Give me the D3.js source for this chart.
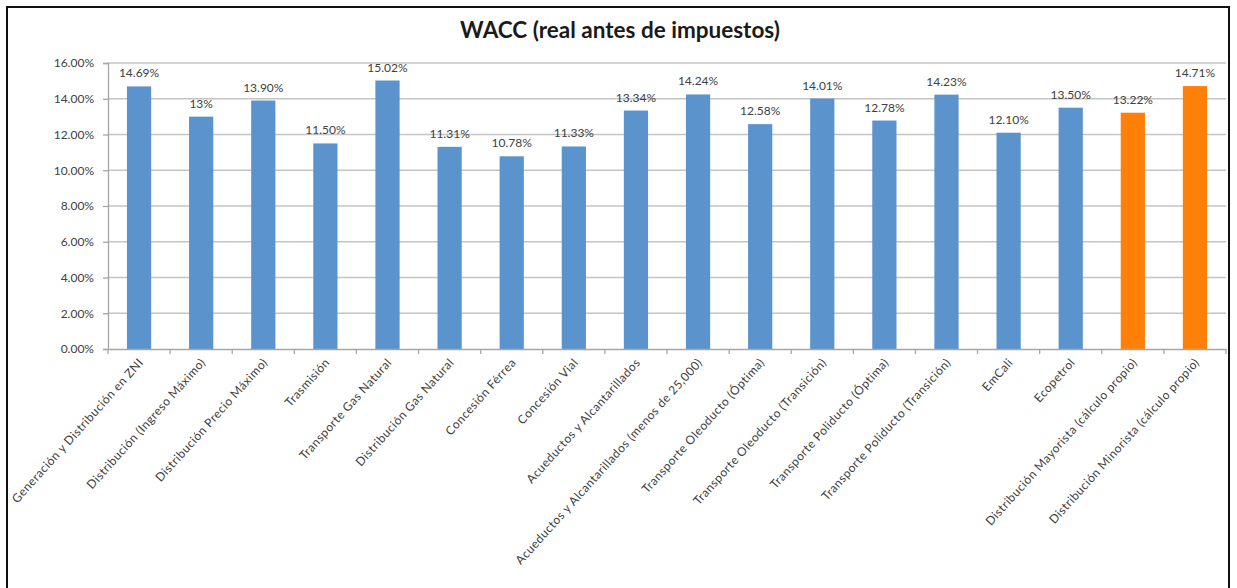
<!DOCTYPE html>
<html>
<head>
<meta charset="utf-8">
<script src="https://cdn.jsdelivr.net/npm/d3@7"></script>
<style>
  html, body { margin: 0; padding: 0; background: #fff; }
  svg { display: block; }
  text { font-family: Lato, "Open Sans", "Liberation Sans", sans-serif; }
</style>
</head>
<body>
<svg id="chart" width="1237" height="588"></svg>
<script>
const title = "WACC (real antes de impuestos)";
const categories = [
  "Generación y Distribución en ZNI",
  "Distribución (Ingreso Máximo)",
  "Distribución Precio Máximo)",
  "Trasmisión",
  "Transporte Gas Natural",
  "Distribución Gas Natural",
  "Concesión Férrea",
  "Concesión Vial",
  "Acueductos y Alcantarillados",
  "Acueductos y Alcantarillados (menos de 25,000)",
  "Transporte Oleoducto (Óptima)",
  "Transporte Oleoducto (Transición)",
  "Transporte Poliducto (Óptima)",
  "Transporte Poliducto (Transición)",
  "EmCali",
  "Ecopetrol",
  "Distribución Mayorista (cálculo propio)",
  "Distribución Minorista (cálculo propio)"
];
const values = [14.69, 13.00, 13.90, 11.50, 15.02, 11.31, 10.78, 11.33, 13.34, 14.24, 12.58, 14.01, 12.78, 14.23, 12.10, 13.50, 13.22, 14.71];
const valueLabels = ["14.69%", "13%", "13.90%", "11.50%", "15.02%", "11.31%", "10.78%", "11.33%", "13.34%", "14.24%", "12.58%", "14.01%", "12.78%", "14.23%", "12.10%", "13.50%", "13.22%", "14.71%"];
const sources = ["ref","ref","ref","ref","ref","ref","ref","ref","ref","ref","ref","ref","ref","ref","ref","ref","propio","propio"];
const yTicks = [0, 2, 4, 6, 8, 10, 12, 14, 16];

const svg = d3.select("#chart");
const W = 1237, H = 588;
const m = { left: 108, right: 11, top: 63, bottom: 239 };

// outer frame
svg.append("rect").attr("x", 7).attr("y", 7).attr("width", 1222).attr("height", 600)
  .attr("fill", "#fff").attr("stroke", "#111").attr("stroke-width", 2);

const x = d3.scaleBand().domain(categories).range([m.left, W - m.right]).padding(0);
const y = d3.scaleLinear().domain([0, 16]).range([H - m.bottom, m.top]);
const color = d3.scaleOrdinal().domain(["ref", "propio"]).range(["#5b93cd", "#ff8009"]);

// gridlines
svg.append("g").selectAll("line").data(yTicks.filter(d => d > 0)).join("line")
  .attr("x1", m.left).attr("x2", W - m.right)
  .attr("y1", d => y(d)).attr("y2", d => y(d))
  .attr("stroke", "#c4c4c4").attr("stroke-width", 1.3);

// y axis
const yAxis = d3.axisLeft(y).tickValues(yTicks).tickSize(5).tickPadding(9)
  .tickFormat(d => d3.format(".2f")(d) + "%");
const gy = svg.append("g").attr("transform", `translate(${m.left},0)`).call(yAxis);
gy.select(".domain").attr("stroke", "#a6a6a6").attr("stroke-width", 1.3);
gy.selectAll(".tick line").attr("stroke", "#a6a6a6").attr("stroke-width", 1.3);
gy.selectAll(".tick text").attr("font-size", 12).attr("fill", "#404040")
  .style("font-family", "Lato, 'Open Sans', sans-serif");

// bars
const barW = x.bandwidth() * 0.39;
svg.append("g").selectAll("rect").data(values).join("rect")
  .attr("x", (d, i) => x(categories[i]) + (x.bandwidth() - barW) / 2)
  .attr("width", barW)
  .attr("y", d => y(d))
  .attr("height", d => y(0) - y(d))
  .attr("fill", (d, i) => color(sources[i]));

// value labels
svg.append("g").selectAll("text").data(values).join("text")
  .attr("x", (d, i) => x(categories[i]) + x.bandwidth() / 2)
  .attr("y", d => y(d) - 9)
  .attr("text-anchor", "middle")
  .attr("font-size", 12)
  .attr("fill", "#404040")
  .text((d, i) => valueLabels[i]);

// x axis
const xAxis = d3.axisBottom(x).tickSize(0).tickFormat("");
const gx = svg.append("g").attr("transform", `translate(0,${y(0)})`).call(xAxis);
gx.select(".domain").attr("stroke", "#a6a6a6").attr("stroke-width", 1.3);
gx.selectAll(".tick").remove();
// boundary ticks
const bounds = categories.map(c => x(c)).concat([x(categories[categories.length - 1]) + x.bandwidth()]);
gx.append("g").selectAll("line").data(bounds).join("line")
  .attr("x1", d => d).attr("x2", d => d).attr("y1", 0).attr("y2", 5)
  .attr("stroke", "#a6a6a6").attr("stroke-width", 1.3);

// category labels
svg.append("g").selectAll("text").data(categories).join("text")
  .attr("transform", d => `translate(${x(d) + x.bandwidth() / 2 + 5},${y(0) + 14}) rotate(-48)`)
  .attr("text-anchor", "end")
  .attr("font-size", 12)
  .attr("letter-spacing", 0.45)
  .attr("fill", "#404040")
  .text(d => d);

// title
svg.append("text").attr("x", 620).attr("y", 38)
  .attr("text-anchor", "middle")
  .attr("font-size", 22.5)
  .attr("font-weight", "bold")
  .attr("fill", "#1a1a1a")
  .text(title);
</script>
</body>
</html>
